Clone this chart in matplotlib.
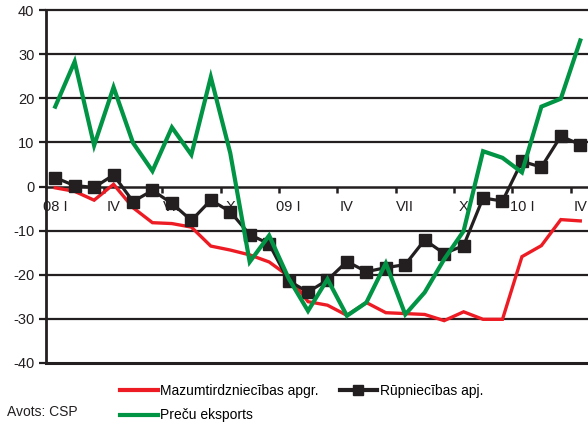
import numpy as np
import matplotlib
matplotlib.use('Agg')
import matplotlib.pyplot as plt
from matplotlib.lines import Line2D

plt.rcParams['font.family'] = ['Liberation Sans', 'DejaVu Sans']
plt.rcParams['axes.unicode_minus'] = False

# months Jan 2008 .. Apr 2010
month_labels = ['08 I', 'IV', 'VII', 'X', '09 I', 'IV', 'VII', 'X', '10 I', 'IV']

retail = [-0.3, -1.1, -3.1, 0.5, -4.8, -8.2, -8.4, -9.2, -13.5, -14.4, -15.5, -17.1,
          -20.3, -26.1, -26.9, -29.2, -26.3, -28.6, -28.8, -29.0, -30.4, -28.4, -30.1, -30.1,
          -15.9, -13.4, -7.5, -7.8]
industry = [2.0, 0.2, -0.2, 2.6, -3.4, -0.9, -3.8, -7.7, -3.1, -5.7, -10.9, -13.0,
            -21.4, -23.9, -21.2, -17.0, -19.3, -18.4, -17.7, -12.1, -15.2, -13.4, -2.6, -3.3,
            5.7, 4.4, 11.4, 9.5]
exports = [18.1, 28.3, 9.3, 22.5, 9.9, 3.5, 13.4, 7.2, 24.8, 7.6, -17.1, -11.1,
           -20.8, -28.2, -21.0, -29.3, -26.3, -17.4, -29.0, -24.0, -16.5, -10.1, 8.0, 6.5,
           3.2, 18.1, 19.9, 33.1]

names = ['Mazumtirdzniecības apgr.', 'Rūpniecības apj.', 'Preču eksports']
c_red = '#ed1c24'
c_black = '#231f20'
c_green = '#009444'

W, H = 588, 426
fig = plt.figure(figsize=(W / 100, H / 100), dpi=100)
left, right, top, bottom = 45.5, 590.0, 10.0, 363.0
ax = fig.add_axes([left / W, 1 - bottom / H, (right - left) / W, (bottom - top) / H])

x = np.arange(len(retail))
ax.plot(x, retail, color=c_red, lw=2.4, zorder=4, solid_joinstyle='miter')
ax.plot(x, industry, color=c_black, lw=2.3, marker='s', ms=8, zorder=5)
ax.plot(x, exports, color=c_green, lw=3.0, zorder=6, solid_joinstyle='miter')

ax.set_xlim(-0.5, len(retail) - 0.5)
ax.set_ylim(-40, 40)

for v in [-30, -20, -10, 10, 20, 30, 40]:
    ax.axhline(v, color=c_black, lw=1.6, zorder=1, clip_on=False)
ax.axhline(-40, color=c_black, lw=2.2, zorder=1, clip_on=False)

for s in ['top', 'right']:
    ax.spines[s].set_visible(False)
ax.spines['left'].set_linewidth(2.0)
ax.spines['left'].set_color(c_black)
ax.spines['bottom'].set_position(('data', 0))
ax.spines['bottom'].set_linewidth(1.8)
ax.spines['bottom'].set_color(c_black)
ax.spines['bottom'].set_zorder(2)

ax.set_yticks(np.arange(-40, 41, 10))
ax.tick_params(axis='y', direction='out', length=5, width=1.6, color=c_black,
               labelsize=10.5, pad=3, labelcolor='#231f20')

ax.set_xticks(np.arange(2.5, len(retail), 3))
ax.set_xticklabels([])
ax.tick_params(axis='x', which='major', direction='out', length=4, width=1.8, color=c_black)
ax.set_xticks(np.arange(0, len(retail), 3), minor=True)
ax.set_xticklabels(month_labels, minor=True)
ax.tick_params(axis='x', which='minor', length=0, labelsize=10.5, pad=10, labelcolor='#231f20')

handles = [Line2D([], [], color=c_red, lw=3.0),
           Line2D([], [], color=c_green, lw=3.0),
           Line2D([], [], color=c_black, lw=3.0, marker='s', ms=7)]
fig.legend(handles, [names[0], names[2], names[1]], ncol=2, loc='upper left',
           bbox_to_anchor=(120 / W, 1 - 384 / H), frameon=False, fontsize=10,
           handlelength=2.7, handletextpad=0.2, columnspacing=1.5,
           labelspacing=0.75, borderpad=0, borderaxespad=0, numpoints=1)

fig.text(7 / W, 1 - 412 / H, 'Avots: CSP', fontsize=10, va='center', ha='left',
         color='#231f20')

fig.savefig('out.png', dpi=100)
